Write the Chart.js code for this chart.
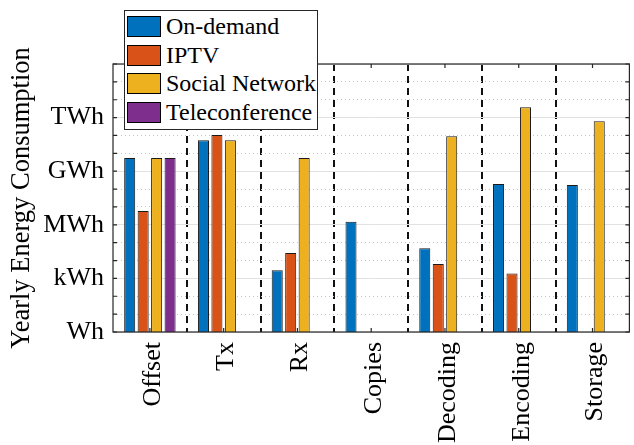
<!DOCTYPE html>
<html>
<head>
<meta charset="utf-8">
<script src="https://cdn.jsdelivr.net/npm/chart.js@4.4.0/dist/chart.umd.min.js"></script>
<style>
  body { margin: 0; background: #fff; }
  #wrap { position: relative; width: 634px; height: 445px; }
  #legend {
    position: absolute; left: 124px; top: 10px; width: 194px; height: 120px;
    box-sizing: border-box; border: 1px solid #262626; background: #fff;
    padding: 1px 0 0 2px; color: #000;
    font-family: "Liberation Serif", "Times New Roman", Times, "DejaVu Serif", serif;
    font-size: 24px;
  }
  .item { display: flex; align-items: center; height: 28.7px; white-space: nowrap; }
  .sw { width: 32px; height: 19px; border: 1px solid #000; margin-right: 5px; flex: none; }
</style>
</head>
<body>
<div id="wrap">
  <canvas id="chart" width="634" height="445"></canvas>
  <div id="legend"></div>
</div>
<script>
// categories and series (values in Wh per year)
const categories = ["Offset", "Tx", "Rx", "Copies", "Decoding", "Encoding", "Storage"];
const seriesNames = ["On-demand", "IPTV", "Social Network", "Teleconference"];
const seriesColors = ["#0072BD", "#D95319", "#EDB120", "#7E2F8E"];

const onDemand = [5.5e9, 5.4e10, 2.9e3, 1.5e6, 4.9e4, 1.9e8, 1.7e8];
const iptv = [5.9e6, 1.07e11, 2.6e4, null, 6.5e3, 1.9e3, null];
const socialNetwork = [5.5e9, 5.4e10, 5.4e9, null, 9.1e10, 3.8e12, 6.3e11];
const teleconference = [5.5e9, null, null, null, null, null, null];

// y axis ticks: every decade, labels every 3 decades
const yTickValues = [1e0, 1e1, 1e2, 1e3, 1e4, 1e5, 1e6, 1e7, 1e8, 1e9, 1e10, 1e11, 1e12, 1e13, 1e14, 1e15];
const yTickLabels = ["Wh", "kWh", "MWh", "GWh", "TWh", ""];

const serif = "'Liberation Serif', 'Times New Roman', serif";
const seriesValues = [onDemand, iptv, socialNetwork, teleconference];

// html legend (sits over the top of the axes like the original)
const legendDiv = document.getElementById("legend");
seriesNames.forEach((name, i) => {
  const row = document.createElement("div");
  row.className = "item";
  row.innerHTML = `<span class="sw" style="background:${seriesColors[i]}"></span><span>${name}</span>`;
  legendDiv.appendChild(row);
});

// box around the plot with inward tick marks
const frame = {
  id: "frame",
  afterDraw(chart) {
    const { ctx, chartArea: a, scales: { x, y } } = chart;
    ctx.save();
    ctx.strokeStyle = "#262626";
    ctx.lineWidth = 1.2;
    ctx.strokeRect(a.left, a.top, a.right - a.left, a.bottom - a.top);
    ctx.beginPath();
    yTickValues.forEach(v => {
      const py = y.getPixelForValue(v);
      ctx.moveTo(a.left, py); ctx.lineTo(a.left + 4, py);
      ctx.moveTo(a.right, py); ctx.lineTo(a.right - 4, py);
    });
    categories.forEach((c, i) => {
      const px = x.getPixelForValue(i);
      ctx.moveTo(px, a.bottom); ctx.lineTo(px, a.bottom - 4);
      ctx.moveTo(px, a.top); ctx.lineTo(px, a.top + 4);
    });
    ctx.stroke();
    ctx.restore();
  }
};

const setDecades = s => { s.ticks = yTickValues.map(v => ({ value: v })); };

new Chart(document.getElementById("chart"), {
  type: "bar",
  data: {
    labels: categories,
    datasets: seriesNames.map((name, i) => ({
      label: name,
      data: seriesValues[i],
      backgroundColor: seriesColors[i],
      borderColor: "#1a1a1a",
      borderWidth: 1,
      categoryPercentage: 0.73,
      barPercentage: 0.82,
      yAxisID: "y"
    }))
  },
  options: {
    responsive: false,
    animation: false,
    layout: { padding: { top: 64, left: 0, right: 0, bottom: 0 } },
    plugins: { legend: { display: false }, tooltip: { enabled: false } },
    scales: {
      x: {
        afterFit: s => { s.height = 113; },
        grid: {
          offset: true,
          drawTicks: false,
          lineWidth: 2,
          color: c => (c.type === "tick" && c.index > 0 ? "#111" : "rgba(0,0,0,0)")
        },
        border: { display: false, dash: [7, 5] },
        ticks: {
          autoSkip: false, minRotation: 90, maxRotation: 90,
          padding: 10, labelOffset: 3, color: "#000",
          font: { family: serif, size: 26 }
        }
      },
      y: {
        type: "logarithmic",
        min: 1, max: 1e15,
        afterBuildTicks: setDecades,
        afterFit: s => { s.width = 113; },
        grid: {
          drawTicks: false,
          lineWidth: 1,
          color: c => (c.index % 3 === 0 ? "#e2e2e2" : "rgba(0,0,0,0)")
        },
        border: { display: false },
        ticks: {
          autoSkip: false, padding: 9, color: "#000",
          font: { family: serif, size: 26 },
          callback: (v, i) => (i % 3 === 0 ? yTickLabels[i / 3] : "")
        },
        title: {
          display: true, text: "Yearly Energy Consumption", color: "#000",
          font: { family: serif, size: 26.5 },
          padding: { top: 6, bottom: 0 }
        }
      },
      y2: {
        type: "logarithmic",
        position: "right",
        min: 1, max: 1e15,
        afterBuildTicks: setDecades,
        afterFit: s => { s.width = 4; },
        grid: {
          drawTicks: false,
          lineWidth: 1,
          color: c => (c.index % 3 === 0 ? "rgba(0,0,0,0)" : "#c4c4c4")
        },
        border: { display: false, dash: [1, 3] },
        ticks: { display: false }
      }
    }
  },
  plugins: [frame]
});
</script>
</body>
</html>
